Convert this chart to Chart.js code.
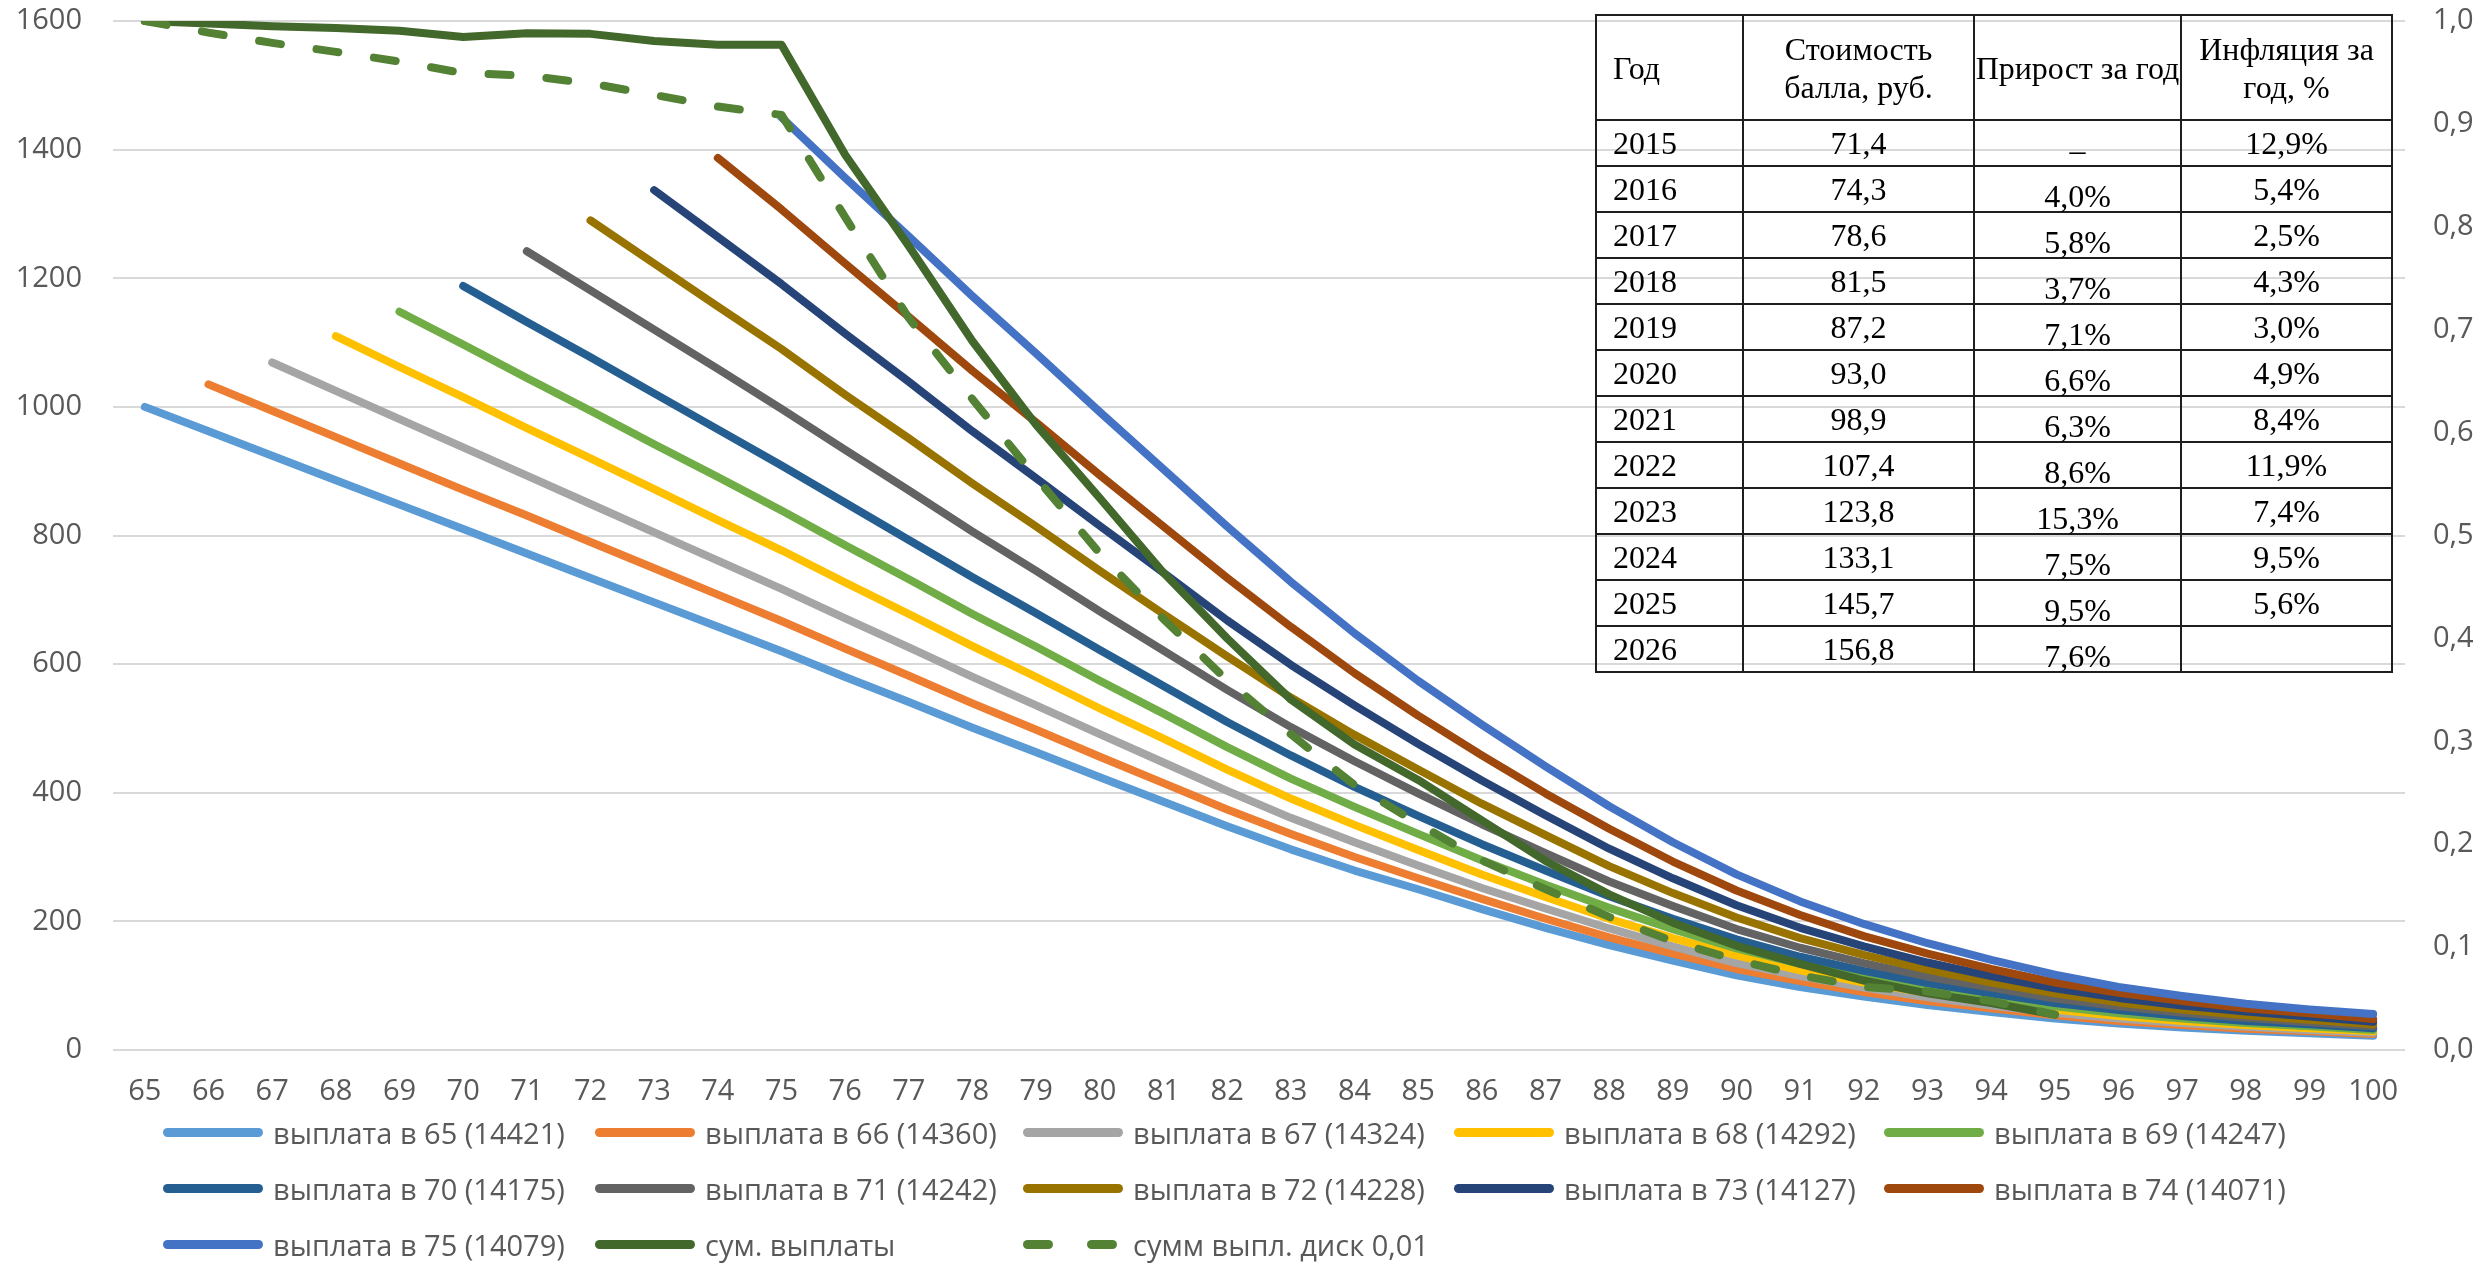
<!DOCTYPE html>
<html lang="ru">
<head>
<meta charset="utf-8">
<title>Выплаты по возрасту</title>
<script src="https://cdn.jsdelivr.net/npm/chart.js@4.4.0/dist/chart.umd.min.js"></script>
<style>
    html, body { margin: 0; padding: 0; background: #fff; }
    #wrap { position: relative; width: 2486px; height: 1269px; overflow: hidden; }
    #chart { position: absolute; left: 0; top: 0; }

    .points {
        position: absolute; left: 1595px; top: 14px;
        border-collapse: collapse; table-layout: fixed;
        font-family: "Liberation Serif", "Times New Roman", serif;
        font-size: 32px; color: #000;
    }
    .points th, .points td {
        box-sizing: border-box;
        border: 2px solid #1e1e1e; padding: 0;
        font-weight: normal; text-align: center; vertical-align: middle;
        line-height: 30px; white-space: nowrap; overflow: visible;
    }
    .points tr.head th { height: 105px; line-height: 38px; }
    .points tr.row td { height: 46px; }
    .points .year { text-align: left; padding-left: 16px; }
    .points .grow { padding-top: 14px; }

    .legend-item {
        position: absolute; height: 40px; display: flex; align-items: center;
        font-family: "Open Sans", sans-serif; font-size: 29px; color: #595959;
        white-space: nowrap;
    }
    .swatch { position: relative; width: 100px; height: 9px; margin-right: 10px; }
    .swatch span { position: absolute; top: 0; height: 9px; border-radius: 4.5px; }
</style>
</head>
<body>
<div id="wrap">
    <canvas id="chart" width="2486" height="1269"></canvas>
    <table class="points" id="points"></table>
    <div id="legend"></div>
</div>
<script>
// ages on the x axis
const ages = ['65', '66', '67', '68', '69', '70', '71', '72', '73', '74', '75', '76',
    '77', '78', '79', '80', '81', '82', '83', '84', '85', '86', '87', '88',
    '89', '90', '91', '92', '93', '94', '95', '96', '97', '98', '99', '100'];

// payout per age, each series starts at the age of the first payment
const pay65 = [1000, 962, 924, 886, 848, 810, 772, 734, 696, 658, 620, 580, 541, 501, 463, 424, 386, 348, 312, 279, 250, 219, 190, 163, 139, 116, 98, 83, 70, 59, 49, 41, 35, 30, 26, 22];
const pay66 = [1035, 994, 953, 912, 871, 831, 790, 749, 708, 667, 624, 582, 539, 498, 456, 415, 374, 336, 300, 267, 235, 204, 175, 150, 126, 107, 90, 76, 65, 54, 45, 39, 33, 29, 25];
const pay67 = [1069, 1025, 981, 937, 893, 849, 805, 761, 717, 671, 626, 580, 536, 491, 447, 403, 361, 323, 287, 252, 220, 189, 161, 135, 115, 97, 82, 69, 58, 49, 42, 36, 31, 27];
const pay68 = [1110, 1062, 1015, 967, 920, 872, 824, 777, 727, 678, 628, 580, 531, 484, 436, 391, 350, 311, 273, 238, 204, 174, 147, 124, 105, 89, 75, 63, 53, 45, 39, 34, 29];
const pay69 = [1148, 1097, 1045, 994, 942, 891, 839, 785, 732, 678, 627, 574, 523, 471, 422, 378, 336, 295, 257, 221, 188, 158, 134, 114, 96, 81, 68, 57, 49, 42, 37, 31];
const pay70 = [1188, 1132, 1077, 1021, 965, 909, 851, 793, 735, 679, 622, 566, 510, 458, 409, 364, 320, 279, 239, 204, 172, 145, 123, 104, 88, 73, 62, 53, 45, 40, 34];
const pay71 = [1242, 1181, 1120, 1059, 997, 933, 870, 806, 745, 682, 621, 560, 502, 449, 399, 351, 306, 262, 224, 188, 159, 135, 114, 97, 80, 68, 58, 50, 43, 37];
const pay72 = [1290, 1223, 1156, 1090, 1019, 951, 881, 814, 745, 678, 612, 548, 490, 436, 383, 334, 286, 244, 206, 174, 148, 125, 105, 88, 74, 63, 54, 47, 40];
const pay73 = [1337, 1264, 1191, 1114, 1039, 962, 889, 815, 742, 668, 599, 536, 476, 419, 365, 313, 267, 225, 190, 161, 136, 115, 96, 81, 69, 60, 52, 44];
const pay74 = [1387, 1307, 1223, 1140, 1056, 976, 894, 814, 734, 658, 586, 520, 458, 399, 344, 293, 248, 210, 177, 150, 126, 105, 89, 76, 65, 57, 48];
const pay75 = [1450, 1356, 1265, 1172, 1083, 992, 903, 814, 728, 648, 574, 506, 441, 379, 323, 273, 231, 196, 166, 140, 117, 98, 84, 72, 63, 56];
const paySum = [1600, 1596, 1592, 1589, 1585, 1575, 1581, 1580, 1569, 1563, 1563, 1392, 1250, 1102, 972, 858, 742, 640, 545, 475, 420, 357, 294, 242, 198, 162, 134, 108, 88, 73, 55];
const paySumDisc = [1600, 1582, 1566, 1552, 1537, 1519, 1515, 1503, 1485, 1467, 1454, 1295, 1138, 1012, 890, 772, 670, 575, 491, 412, 352, 295, 250, 207, 169, 140, 116, 98, 91, 76, 55];

const seriesNames = ['выплата в 65 (14421)', 'выплата в 66 (14360)', 'выплата в 67 (14324)',
    'выплата в 68 (14292)', 'выплата в 69 (14247)', 'выплата в 70 (14175)', 'выплата в 71 (14242)',
    'выплата в 72 (14228)', 'выплата в 73 (14127)', 'выплата в 74 (14071)', 'выплата в 75 (14079)',
    'сум. выплаты', 'сумм выпл. диск 0,01'];
const seriesStart = [65, 66, 67, 68, 69, 70, 71, 72, 73, 74, 75, 65, 65];
const seriesValues = [pay65, pay66, pay67, pay68, pay69, pay70, pay71, pay72, pay73, pay74, pay75, paySum, paySumDisc];
const seriesColors = ['#5B9BD5', '#ED7D31', '#A5A5A5', '#FFC000', '#70AD47', '#255E91', '#636363',
    '#997300', '#264478', '#9E480E', '#4472C4', '#43682B', '#548235'];

// table: cost of a pension point
const tableYears = ['2015', '2016', '2017', '2018', '2019', '2020', '2021', '2022', '2023', '2024', '2025', '2026'];
const tablePointCost = ['71,4', '74,3', '78,6', '81,5', '87,2', '93,0', '98,9', '107,4', '123,8', '133,1', '145,7', '156,8'];
const tableGrowth = ['–', '4,0%', '5,8%', '3,7%', '7,1%', '6,6%', '6,3%', '8,6%', '15,3%', '7,5%', '9,5%', '7,6%'];
const tableInflation = ['12,9%', '5,4%', '2,5%', '4,3%', '3,0%', '4,9%', '8,4%', '11,9%', '7,4%', '9,5%', '5,6%', ''];

const axisFont = { family: '"Open Sans", sans-serif', size: 29 };
const axisColor = '#595959';

// leading nulls so each series begins at its own age
function pad(startAge, values) {
    const out = [];
    for (let a = 65; a < startAge; a++) out.push(null);
    return out.concat(values);
}

// keep the plot area exactly where the original has it
function noLabelPadding(s) {
    s.paddingTop = 0;
    s.paddingBottom = 0;
}

const datasets = seriesValues.map((values, i) => ({
    label: seriesNames[i],
    data: pad(seriesStart[i], values),
    borderColor: seriesColors[i],
    backgroundColor: seriesColors[i],
    borderWidth: 8,
    borderDash: i === 12 ? [22, 36] : [],
    pointRadius: 0,
    fill: false,
    yAxisID: 'y',
    order: seriesValues.length - i   // later series on top, like the original
}));

new Chart(document.getElementById('chart'), {
    type: 'line',
    data: { labels: ages, datasets: datasets },
    options: {
        responsive: false,
        animation: false,
        layout: { padding: { top: 21, bottom: 159, left: 0, right: 0 } },
        elements: {
            line: { tension: 0, borderCapStyle: 'round', borderJoinStyle: 'round' }
        },
        plugins: {
            legend: { display: false },
            tooltip: { enabled: false }
        },
        scales: {
            x: {
                offset: true,
                grid: { display: false, drawTicks: false },
                border: { display: false },
                ticks: { font: axisFont, color: axisColor, padding: 24, maxRotation: 0, autoSkip: false },
                afterFit: s => { s.height = 60; }
            },
            y: {
                position: 'left',
                min: 0, max: 1600,
                grid: { color: '#D9D9D9', lineWidth: 2, drawTicks: false },
                border: { display: false },
                ticks: { stepSize: 200, font: axisFont, color: axisColor, padding: 31, callback: v => String(v) },
                afterFit: s => { s.width = 113; noLabelPadding(s); }
            },
            y2: {
                position: 'right',
                min: 0, max: 1,
                grid: { drawOnChartArea: false, drawTicks: false },
                border: { display: false },
                ticks: {
                    stepSize: 0.1, font: axisFont, color: axisColor, padding: 28,
                    callback: v => v.toFixed(1).replace('.', ',')
                },
                afterFit: s => { s.width = 81; noLabelPadding(s); }
            }
        }
    }
});

// table overlay
const table = document.getElementById('points');
let html = '<colgroup><col style="width:147px"><col style="width:231px"><col style="width:207px"><col style="width:211px"></colgroup>';
html += '<tr class="head"><th class="year">Год</th><th>Стоимость<br>балла, руб.</th><th>Прирост за год</th><th>Инфляция за<br>год, %</th></tr>';
tableYears.forEach((year, i) => {
    html += '<tr class="row"><td class="year">' + year + '</td><td>' + tablePointCost[i] +
        '</td><td class="grow">' + tableGrowth[i] + '</td><td>' + tableInflation[i] + '</td></tr>';
});
table.innerHTML = html;

// legend in 5 columns, as in the original
const legendCols = [163, 595, 1023, 1454, 1884];
const legendRows = [1132, 1188, 1244];
const legend = document.getElementById('legend');
seriesNames.forEach((name, i) => {
    const item = document.createElement('div');
    item.className = 'legend-item';
    item.style.left = legendCols[i % 5] + 'px';
    item.style.top = (legendRows[Math.floor(i / 5)] - 20) + 'px';
    const sw = document.createElement('div');
    sw.className = 'swatch';
    const parts = i === 12 ? [[0, 30], [64, 30]] : [[0, 100]];
    parts.forEach(([x, w]) => {
        const s = document.createElement('span');
        s.style.left = x + 'px';
        s.style.width = w + 'px';
        s.style.background = seriesColors[i];
        sw.appendChild(s);
    });
    item.appendChild(sw);
    item.appendChild(document.createTextNode(name));
    legend.appendChild(item);
});
</script>
</body>
</html>
